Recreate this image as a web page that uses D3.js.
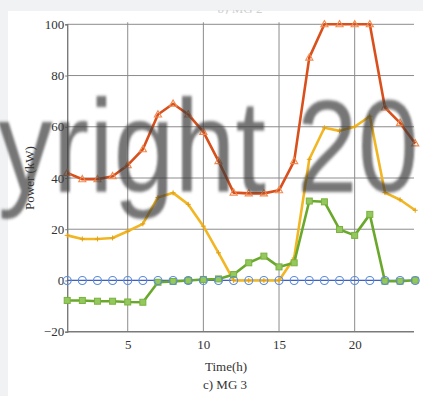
<!DOCTYPE html>
<html>
<head>
<meta charset="utf-8">
<script src="https://cdn.jsdelivr.net/npm/d3@7"></script>
<style>
  html, body { margin: 0; padding: 0; background: #f1f2f4; }
  svg { display: block; }
</style>
</head>
<body>
<svg id="chart" width="423" height="396"></svg>
<script>
// Hourly power of MG 3 (kW), hours 1..24
const hours = d3.range(1, 25);
const seriesA = [42, 39.5, 39.5, 40.7, 45, 51.2, 64.8, 69, 64.8, 58, 46.6, 34.3, 34, 34, 35.2, 46.6, 87, 100, 100, 100, 100, 67.5, 61.5, 53.5];
const seriesB = [17.6, 16.2, 16.2, 16.6, 19.2, 22.1, 32.4, 34.2, 29.7, 21.2, 10.8, 0, 0, 0, 0, 8.8, 47.3, 59.6, 58.4, 60, 64.1, 34.3, 31.5, 27.4];
const seriesC = [-7.8, -7.8, -8.1, -8.1, -8.4, -8.5, -0.7, -0.4, 0, 0.4, 0.6, 2.3, 6.9, 9.5, 5.3, 6.9, 31, 30.7, 19.9, 17.6, 25.8, -0.3, -0.3, 0.1];
const seriesD = [0, 0, 0, 0, 0, 0, 0, 0, 0, 0, 0, 0, 0, 0, 0, 0, 0, 0, 0, 0, 0, 0, 0, 0];
const xTicks = [5, 10, 15, 20];
const yTicks = [-20, 0, 20, 40, 60, 80, 100];

const SERIF = "'Liberation Serif', 'Times New Roman', serif";
const SANS = "'Liberation Sans', Arial, sans-serif";

const svg = d3.select("#chart");
const W = 423, H = 396;

// page panel
svg.append("rect").attr("x", 0).attr("y", 0).attr("width", W).attr("height", H).attr("fill", "#f1f2f4");
svg.append("rect").attr("x", 8).attr("y", 11).attr("width", W - 8).attr("height", H - 11).attr("fill", "#ffffff");

// caption of the panel above, mostly cut off
svg.append("clipPath").attr("id", "capClip")
  .append("rect").attr("x", 0).attr("y", 10).attr("width", W).attr("height", 4);
svg.append("text")
  .attr("clip-path", "url(#capClip)")
  .attr("x", 240).attr("y", 13)
  .attr("text-anchor", "middle")
  .style("font-family", SERIF).style("font-size", "13px")
  .attr("fill", "#cfcfcf")
  .text("b) MG 2");

const x = d3.scaleLinear().domain([1, 24]).range([67.2, 415.2]);
const y = d3.scaleLinear().domain([-20, 100]).range([331.7, 24.3]);

// grid
const grid = svg.append("g");
grid.selectAll("line.h").data(yTicks.filter(v => v > -20)).join("line")
  .attr("x1", x(1)).attr("x2", 414)
  .attr("y1", d => y(d)).attr("y2", d => y(d))
  .attr("stroke", "#8c8c8c").attr("stroke-width", 1);
grid.selectAll("line.v").data(xTicks).join("line")
  .attr("x1", d => x(d)).attr("x2", d => x(d))
  .attr("y1", y(-20)).attr("y2", y(100) - 2)
  .attr("stroke", "#8c8c8c").attr("stroke-width", 1);

// axes
const yAxis = svg.append("g")
  .attr("transform", `translate(${x(1)},0)`)
  .call(d3.axisLeft(y).tickValues(yTicks).tickSize(2).tickPadding(1).tickFormat(d3.format("d")));
const xAxis = svg.append("g")
  .attr("transform", `translate(0,${y(-20)})`)
  .call(d3.axisBottom(x).tickValues(xTicks).tickSize(0).tickPadding(8).tickFormat(d3.format("d")));
[yAxis, xAxis].forEach(g => {
  g.select(".domain").attr("stroke", "#7a7a7a").attr("stroke-width", 1.4);
  g.selectAll(".tick line").attr("stroke", "#7a7a7a");
  g.selectAll("text")
    .style("font-family", SERIF).style("font-size", "13px").attr("fill", "#333");
});
xAxis.select(".domain").attr("d", `M${x(1)},0H414`);

// axis titles
const title = (sel) => sel.style("font-family", SERIF).style("font-size", "13px").attr("fill", "#333").attr("text-anchor", "middle");
svg.append("text").attr("transform", "translate(34,178) rotate(-90)").call(title).text("Power (kW)");
svg.append("text").attr("x", 226).attr("y", 371).call(title).text("Time(h)");
svg.append("text").attr("x", 225).attr("y", 389).call(title).text("c) MG 3");

const line = d3.line().x((d, i) => x(hours[i])).y(d => y(d));
const plot = svg.append("g");

// zero-level series line
plot.append("path").datum(seriesD).attr("d", line)
  .attr("fill", "none").attr("stroke", "#3f5fc0").attr("stroke-width", 1.3);

// yellow series
plot.append("path").datum(seriesB).attr("d", line)
  .attr("fill", "none").attr("stroke", "#f2b622").attr("stroke-width", 2.6).attr("stroke-linejoin", "round");
plot.selectAll("path.plus").data(seriesB).join("path")
  .attr("d", (d, i) => `M${x(hours[i]) - 2.5},${y(d)}h5M${x(hours[i])},${y(d) - 2.5}v5`)
  .attr("stroke", "#e0a11a").attr("stroke-width", 1);

// red series
plot.append("path").datum(seriesA).attr("d", line)
  .attr("fill", "none").attr("stroke", "#d9501c").attr("stroke-width", 2.6).attr("stroke-linejoin", "round");
plot.selectAll("path.tri").data(seriesA).join("path")
  .attr("d", (d, i) => {
    const cx = x(hours[i]), cy = y(d);
    return `M${cx},${cy - 3.8}L${cx + 3.6},${cy + 2.5}L${cx - 3.6},${cy + 2.5}Z`;
  })
  .attr("fill", "none").attr("stroke", "#f08a50").attr("stroke-width", 1.1);

// green series
plot.append("path").datum(seriesC).attr("d", line)
  .attr("fill", "none").attr("stroke", "#6aa82c").attr("stroke-width", 2.6).attr("stroke-linejoin", "round");
plot.selectAll("rect.sq").data(seriesC).join("rect")
  .attr("x", (d, i) => x(hours[i]) - 3).attr("y", d => y(d) - 3)
  .attr("width", 6).attr("height", 6)
  .attr("fill", "#94c85e").attr("stroke", "#78b23c").attr("stroke-width", 1);

// circles on the zero-level series
plot.selectAll("circle.c").data(seriesD).join("circle")
  .attr("cx", (d, i) => x(hours[i])).attr("cy", d => y(d)).attr("r", 4)
  .attr("fill", "none").attr("stroke", "#5b8ad6").attr("stroke-width", 1.1);

// translucent overlay text
const defs = svg.append("defs");
defs.append("filter").attr("id", "soft")
  .attr("x", "-10%").attr("y", "-10%").attr("width", "120%").attr("height", "120%")
  .append("feGaussianBlur").attr("stdDeviation", 1.4);
const wm = svg.append("text")
  .attr("transform", "translate(-2,192) scale(0.83,1)")
  .style("font-family", SANS).style("font-size", "132px")
  .attr("fill", "#3c3c3c").attr("fill-opacity", 0.7)
  .attr("filter", "url(#soft)");
wm.append("tspan").attr("x", 0).text("yright");
wm.append("tspan").attr("x", 360).text("20");
</script>
</body>
</html>
